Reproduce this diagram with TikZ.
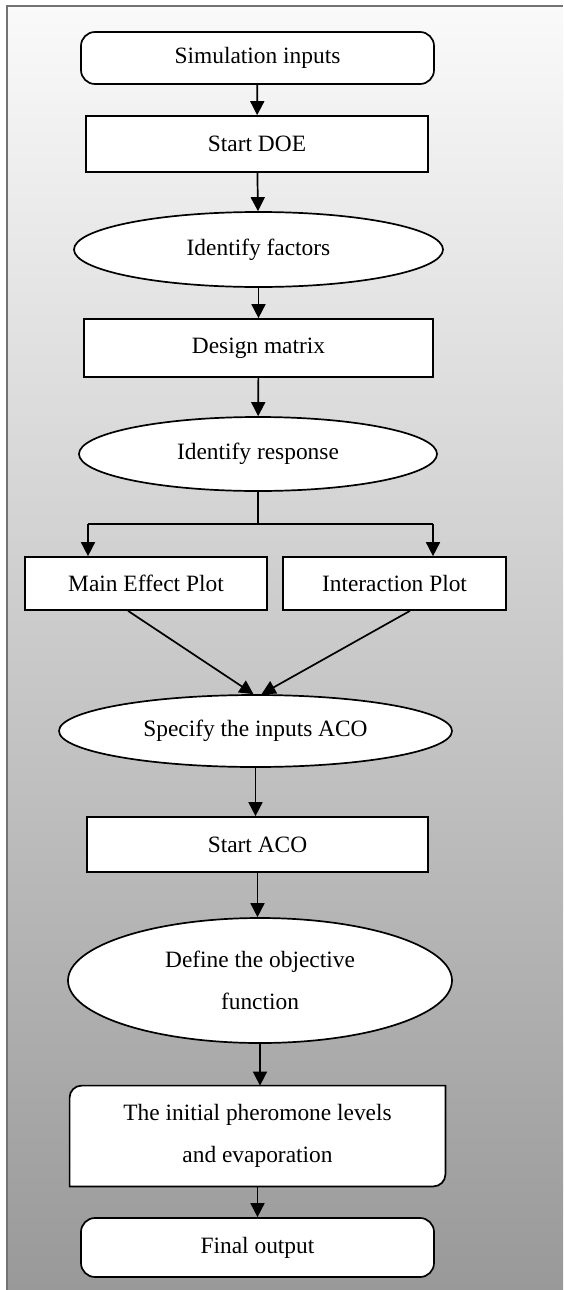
\documentclass[tikz,border=0pt]{standalone}
\usepackage{fontspec}
\setmainfont{Liberation Serif}
\usetikzlibrary{arrows.meta,shapes.geometric,backgrounds}

\tikzset{
	box/.style={draw, fill=white, line width=0.85pt, inner sep=0pt},
	roundbox/.style={box, rounded corners=7pt},
	oval/.style={draw, fill=white, ellipse, line width=0.85pt, inner sep=0pt},
	link/.style={->, line width=0.85pt}
}

\begin{document}
\begin{tikzpicture}[x=0.5pt, y=-0.5pt, >={Triangle[width=7pt,length=7pt]},
	font=\fontsize{11.7}{21}\selectfont]
\useasboundingbox (0,0) rectangle (563,1290);
\begin{scope}[on background layer]
\shade[top color=white!98!black, bottom color=black!40] (7,6) rectangle (563,1290);
\draw[line width=1pt, black!55] (7,1290) -- (7,6) -- (563,6);
\end{scope}

% DOE part
\node[roundbox, minimum width=176.5pt, minimum height=26pt] (sim) at (257.5,58) {Simulation inputs};
\node[box, minimum width=171pt, minimum height=28pt] (doe) at (257,144) {Start DOE};
\node[oval, minimum width=184.5pt, minimum height=37.5pt] (fac) at (258.5,249.5) {Identify factors};
\node[box, minimum width=174.5pt, minimum height=29pt] (mat) at (258.5,348) {Design matrix};
\node[oval, minimum width=179pt, minimum height=37pt] (resp) at (258,454) {Identify response};
\node[box, minimum width=121pt, minimum height=26.5pt] (mep) at (146,583.5) {Main Effect Plot};
\node[box, minimum width=111.5pt, minimum height=26.5pt] (int) at (394.5,583.5) {Interaction Plot};

% ACO part
\node[oval, minimum width=196.5pt, minimum height=36pt] (spec) at (255.5,731) {Specify the inputs ACO};
\node[box, minimum width=170.5pt, minimum height=27.5pt] (aco) at (257.5,844.5) {Start ACO};
\node[oval, minimum width=192pt, minimum height=62.5pt, align=center] (obj) at (260,980.5) {Define the objective\\function};
\node[minimum width=187.5pt, minimum height=50pt, inner sep=0pt, align=center] (pher) at (257.5,1136) {The initial pheromone levels\\and evaporation};
\node[roundbox, minimum width=176.5pt, minimum height=29.5pt] (fin) at (257.5,1247.5) {Final output};

\begin{scope}[on background layer]
\draw[fill=white, line width=0.85pt] ([xshift=6pt]pher.north west) -- (pher.north east)
	-- ([yshift=6pt]pher.south east) arc[start angle=0, end angle=-90, radius=6pt]
	-- (pher.south west) -- ([yshift=-6pt]pher.north west)
	arc[start angle=180, end angle=90, radius=6pt] -- cycle;
\end{scope}

% connectors
\draw[link] (sim) -- (doe);
\draw[link] (doe) -- (fac);
\draw[link] (fac) -- (mat);
\draw[link] (mat) -- (resp);

\coordinate (bm) at (258,524);
\coordinate (bl) at (88,524);
\coordinate (br) at (433,524);
\draw[line width=0.85pt] (resp) -- (bm);
\draw[line width=0.85pt] (bl) -- (br);
\draw[link] (bl) -- (bl |- mep.north);
\draw[link] (br) -- (br |- int.north);

\draw[link] ([xshift=-9pt]mep.south) -- ([xshift=-1pt]spec.north);
\draw[link] ([xshift=7.75pt]int.south) -- ([xshift=3pt]spec.north);

\draw[link] (spec) -- (spec |- aco.north);
\draw[link] (aco) -- (aco |- obj.north);
\draw[link] (obj) -- (obj.south |- pher.north);
\draw[link] (pher) -- (fin);
\end{tikzpicture}
\end{document}
